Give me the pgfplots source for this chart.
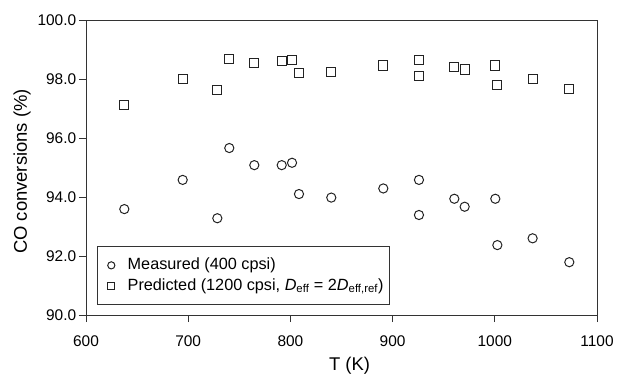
\documentclass[border=0pt]{standalone}
\usepackage{fontspec}
\setmainfont{Liberation Sans}
\usepackage{pgfplots}
\pgfplotsset{compat=1.18}

\definecolor{axisgray}{HTML}{333333}
\definecolor{markgray}{HTML}{222222}
\newcommand{\tickfont}{\fontsize{15.5}{18}\selectfont}
\newcommand{\legfont}{\fontsize{16.3}{19}\selectfont}
\newcommand{\labfont}{\fontsize{18.5}{22}\selectfont}

\begin{document}
\begin{tikzpicture}[x=1bp,y=1bp]
\path[use as bounding box] (-86,-58) rectangle (537,315);
\begin{axis}[
  at={(0,0)}, anchor=south west,
  scale only axis,
  width=511bp, height=295bp,
  xmin=600, xmax=1100, ymin=90, ymax=100,
  xtick={600,700,...,1100},
  ytick={90,92,...,100},
  tick align=outside,
  major tick length=7bp,
  tick pos=left,
  axis line style={axisgray, line width=0.8pt},
  tick style={axisgray, line width=0.8pt},
  xticklabel style={font=\tickfont, inner sep=0pt, anchor=base, yshift=-24.7bp,
    /pgf/number format/.cd, 1000 sep={}, assume math mode=true},
  yticklabel style={font=\tickfont, inner sep=0pt, anchor=east, xshift=-2.6bp,
    /pgf/number format/.cd, fixed, fixed zerofill, precision=1, assume math mode=true},
  xlabel={T (K)},
  ylabel={CO conversions (\%)},
  xlabel style={font=\labfont, inner sep=0pt, anchor=base,
    at={([xshift=8bp,yshift=-55bp]axis description cs:0.5,0)}},
  ylabel style={font=\labfont, inner sep=0pt, anchor=base,
    at={([xshift=-59bp,yshift=-4bp]axis description cs:0,0.5)}},
  legend cell align=left,
  legend image code/.code={
    \path (0bp,0bp) (20bp,0bp);
    \draw[#1, mark size=3.6bp, line width=0.9pt] plot coordinates {(7bp,0bp)};
  },
  legend style={at={(axis description cs:0,0)}, anchor=south west,
    xshift=11.5bp, yshift=10bp, draw=axisgray, line width=0.8pt,
    inner xsep=6bp, inner ysep=10.5bp, row sep=4bp, column sep=3bp,
    nodes={inner sep=0pt, text height=12.5bp, text depth=4bp},
    font=\legfont},
]
% Measured conversions, 400 cpsi monolith
\addplot[only marks, mark=o, mark size=4.6bp, mark options={draw=markgray, line width=1pt}]
coordinates {
 (637.5,93.59) (694.6,94.58) (728.5,93.28) (740.2,95.66) (764.7,95.08)
 (791.5,95.08) (801.6,95.16) (808.4,94.10) (840.0,93.98) (890.9,94.29)
 (925.8,94.58) (925.8,93.39) (960.4,93.94) (970.5,93.67) (1000.5,93.94)
 (1002.5,92.37) (1037.0,92.60) (1072.9,91.79)
};
\addlegendentry{Measured (400 cpsi)}
% Predicted conversions, 1200 cpsi with doubled effective diffusivity
\addplot[only marks, mark=square, mark size=4.6bp, mark options={draw=markgray, line width=1pt}]
coordinates {
 (637.5,97.12) (694.6,98.00) (728.5,97.64) (740.2,98.69) (764.7,98.53)
 (791.5,98.62) (801.6,98.64) (808.4,98.21) (840.0,98.24) (890.9,98.46)
 (925.8,98.64) (925.8,98.10) (960.4,98.42) (970.5,98.32) (1000.5,98.46)
 (1002.5,97.79) (1037.0,98.00) (1072.9,97.67)
};
\addlegendentry{Predicted (1200 cpsi, \textit{D}\textsubscript{eff} = 2\textit{D}\textsubscript{eff,ref})}
\end{axis}
\end{tikzpicture}
\end{document}
